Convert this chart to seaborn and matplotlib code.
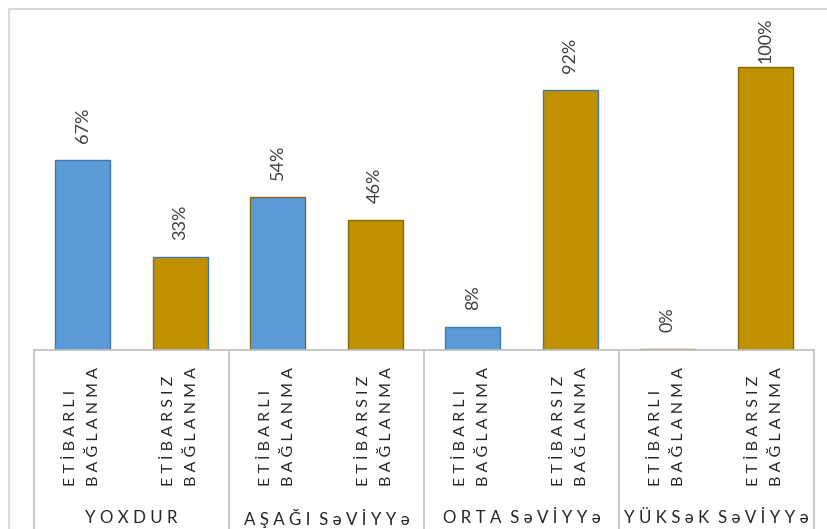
import matplotlib
matplotlib.use("Agg")
import matplotlib.pyplot as plt
import pandas as pd
import seaborn as sns
from matplotlib.lines import Line2D

# Attachment level groups and the two attachment types shown within each
groups = ["YOXDUR", "AŞAĞI SəVİYYə", "ORTA SəVİYYə", "YÜKSəK SəVİYYə"]
kinds = ["ETİBARLI BAĞLANMA", "ETİBARSIZ BAĞLANMA"]
etibarli = [0.67, 0.54, 0.08, 0.0049]
etibarsiz = [0.33, 0.46, 0.92, 1.00]

fill_colors = {"ETİBARLI BAĞLANMA": "#5B9BD5", "ETİBARSIZ BAĞLANMA": "#BF9000"}
edge_colors = {"ETİBARLI BAĞLANMA": "#4178B0", "ETİBARSIZ BAĞLANMA": "#8A6800"}

rows = []
for g, a, b in zip(groups, etibarli, etibarsiz):
    rows.append({"slot": f"{g}|{kinds[0]}", "group": g, "kind": kinds[0], "value": a})
    rows.append({"slot": f"{g}|{kinds[1]}", "group": g, "kind": kinds[1], "value": b})
df = pd.DataFrame(rows)

sns.set_theme(style="white")
plt.rcParams["font.family"] = ["Lato", "DejaVu Sans"]

W, H = 827, 529
fig = plt.figure(figsize=(W / 100, H / 100), dpi=100)
fig.patch.set_facecolor("white")

# outer chart frame (top and left edges visible)
frame_col = "#D9D9D9"
fig.add_artist(Line2D([9 / W, 9 / W], [0, 1 - 9 / H], color=frame_col, lw=1.5))
fig.add_artist(Line2D([9 / W, 1], [1 - 9 / H, 1 - 9 / H], color=frame_col, lw=1.5))

base_px = 350
unit_px = 283  # pixels per 100%
ax = fig.add_axes([34 / W, (H - base_px) / H, 780 / W, (base_px - 9) / H])

sns.barplot(data=df, x="slot", y="value", hue="kind", palette=fill_colors,
            dodge=False, width=0.56, legend=False, ax=ax, saturation=1)

for patch, kind in zip(ax.patches, list(df["kind"])):
    patch.set_edgecolor(edge_colors[kind])
    patch.set_linewidth(1.0)

ymax = (base_px - 9) / unit_px
ax.set_xlim(-0.5, len(df) - 0.5)
ax.set_ylim(0, ymax)
for s in ax.spines.values():
    s.set_visible(False)
ax.set_yticks([])
ax.set_ylabel("")
ax.set_xlabel("")

line_col = "#BFBFBF"
ax.plot([-0.5, len(df) - 0.5], [0, 0], color=line_col, lw=1.2, clip_on=False)
low = -(H - base_px) / unit_px - 0.05
for xd in range(-1, len(df), 2):
    ax.plot([xd + 0.5, xd + 0.5], [0, low], color=line_col, lw=1.2, clip_on=False)


def spaced(text, gap=" ", word_gap="  "):
    return word_gap.join(gap.join(w) for w in text.split(" "))


text_col = "#262626"
ax.set_xticks(range(len(df)))
ax.set_xticklabels([spaced(k.split(" ")[0]) + "\n" + spaced(k.split(" ")[1]) for k in df["kind"]],
                   rotation=90, multialignment="left", fontsize=11.5, color=text_col,
                   linespacing=1.85)
ax.tick_params(axis="x", length=0, pad=12)

label_y = (base_px - 518) / unit_px
for i, g in enumerate(groups):
    ax.text(2 * i + 0.5, label_y, spaced(g), ha="center", va="center",
            fontsize=12.2, color=text_col)

# value labels above each bar, kept inside the plotting area
gap = 17 / unit_px
cap = 1.0 + 4 / unit_px
for i, v in enumerate(df["value"]):
    ax.text(i, min(v + gap, cap), f"{v:.0%}", rotation=90, ha="center", va="bottom",
            fontsize=13, color="#404040")

fig.savefig("out.png", dpi=100, facecolor="white")
